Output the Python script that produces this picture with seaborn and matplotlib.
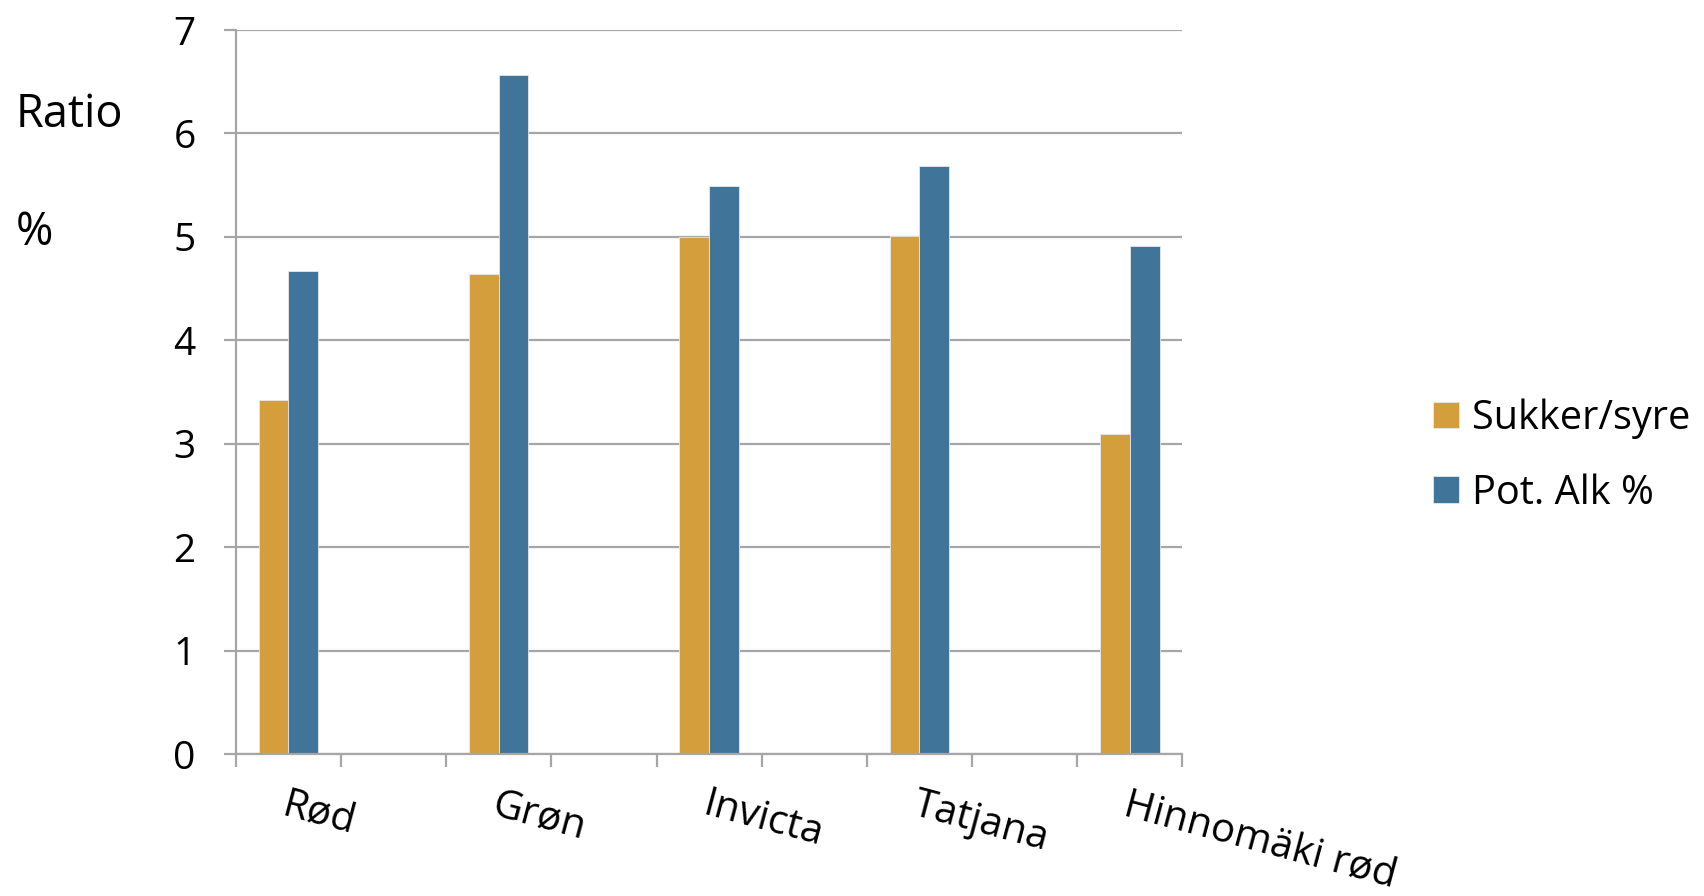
import matplotlib
matplotlib.use("Agg")
import matplotlib.pyplot as plt
import seaborn as sns
import pandas as pd
import numpy as np

# Varieties and measured values
varieties = ["Rød", "Grøn", "Invicta", "Tatjana", "Hinnomäki rød"]
sukker_syre = [3.42, 4.64, 5.00, 5.01, 3.10]
pot_alk = [4.67, 6.57, 5.49, 5.69, 4.91]
series_names = ["Sukker/syre", "Pot. Alk %"]
colors = ["#D39E3B", "#417499"]
y_ticks = [0, 1, 2, 3, 4, 5, 6, 7]

# Category axis: each variety is followed by an empty slot
spacers = [f"_gap{i}" for i in range(len(varieties) - 1)]
order = []
for i, v in enumerate(varieties):
    order.append(v)
    if i < len(spacers):
        order.append(spacers[i])

df = pd.DataFrame({
    "Sort": varieties * 2,
    "Serie": [series_names[0]] * len(varieties) + [series_names[1]] * len(varieties),
    "Verdi": sukker_syre + pot_alk,
})

sns.set_theme(style="white")
plt.rcParams["font.family"] = ["Open Sans", "DejaVu Sans"]
plt.rcParams["text.color"] = "black"
plt.rcParams["xtick.color"] = "black"
plt.rcParams["ytick.color"] = "black"

fig = plt.figure(figsize=(17.04, 8.96), dpi=100)
ax = fig.add_axes([0.1384, 0.1581, 0.5555, 0.8084])

sns.barplot(data=df, x="Sort", y="Verdi", hue="Serie", order=order,
            hue_order=series_names, palette=colors, width=0.565,
            saturation=1, errorbar=None, ax=ax, legend=True,
            edgecolor="#e8e8e8", linewidth=0.6)

grid_color = "#A6A6A6"
ax.set_ylim(0, 7)
ax.set_xlim(-0.5, len(order) - 0.5)
ax.set_yticks(y_ticks)
ax.set_yticklabels([str(t) for t in y_ticks])
ax.yaxis.grid(True, color=grid_color, linewidth=1.6)
ax.set_axisbelow(True)
for s in ["top", "right"]:
    ax.spines[s].set_visible(False)
for s in ["left", "bottom"]:
    ax.spines[s].set_color(grid_color)
    ax.spines[s].set_linewidth(1.6)

# Slot boundary ticks (no labels) and variety labels at slot centres
ax.set_xticks(np.arange(-0.5, len(order), 1.0))
ax.set_xticklabels([])
ax.set_xticks(np.arange(0, len(order), 2), minor=True)
ax.set_xticklabels(varieties, minor=True, rotation=-15, ha="left", va="top",
                   rotation_mode="anchor", fontsize=29)
ax.tick_params(axis="x", which="major", length=9, width=1.6, color=grid_color,
               bottom=True)
ax.tick_params(axis="x", which="minor", length=0, pad=22, labelcolor="black")
ax.tick_params(axis="y", which="major", length=9, width=1.6, color=grid_color,
               left=True, labelsize=28, pad=20, labelcolor="black")
ax.set_xlabel("")
ax.set_ylabel("")

fig.text(0.009, 0.872, "Ratio", fontsize=32.5, ha="left", va="center",
         color="black")
fig.text(0.009, 0.740, "%", fontsize=32.5, ha="left", va="center",
         color="black")

leg = ax.legend(loc="center left", bbox_to_anchor=(1.2647, 0.412),
                frameon=False, fontsize=28.6, handlelength=0.65,
                handleheight=0.65, handletextpad=0.33, labelspacing=0.86,
                borderaxespad=0, borderpad=0)
for t in leg.get_texts():
    t.set_color("black")

fig.savefig("out.png", dpi=100)
